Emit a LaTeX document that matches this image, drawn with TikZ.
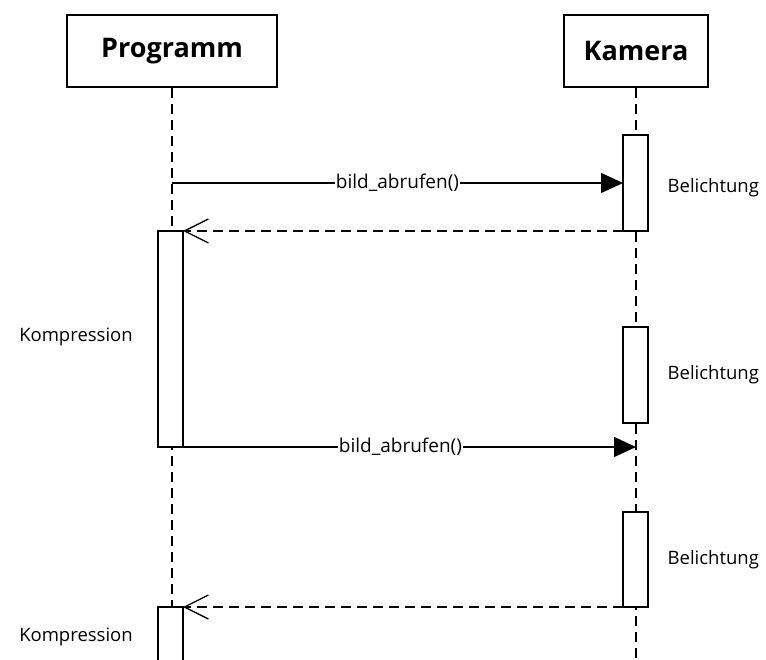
\documentclass[tikz,border=0pt]{standalone}
\usepackage{fontspec}
\setmainfont{Open Sans}
\usetikzlibrary{arrows.meta}
\begin{document}
\begin{tikzpicture}[x=1pt,y=-1pt,
  line width=1.3pt,
  actor/.style={draw,fill=white,inner sep=0pt},
  act/.style={draw,fill=white},
  life/.style={dash pattern=on 10pt off 6pt},
  call/.style={-{Triangle[length=22pt,width=20pt]}},
  ret/.style={dash pattern=on 10pt off 6pt,-{Straight Barb[length=24pt,width=24pt,line width=1.3pt]}},
  lbl/.style={font=\fontsize{18.5}{22}\selectfont},
  msg/.style={font=\fontsize{19}{22}\selectfont,fill=white,inner sep=1pt}]
\useasboundingbox (0,0) rectangle (766,660);
% actors
\node[actor,minimum width=210pt,minimum height=72pt,font=\fontsize{27}{32}\selectfont\bfseries] (prog) at (172,51) {Programm};
\node[actor,minimum width=144pt,minimum height=72pt,font=\fontsize{27}{32}\selectfont\bfseries] (kam) at (636,51) {Kamera};
% lifelines
\coordinate (pend) at (172,660);
\coordinate (kend) at (636,660);
\draw[life] (prog.south) -- (pend);
\draw[life] (kam.south) -- (kend);
% activations
\draw[act] (623,135) rectangle (648,231);
\coordinate (ka1) at (623,183);
\coordinate (ka1b) at (623,231);
\draw[act] (158,231) rectangle (183,447);
\coordinate (pa1t) at (183,231);
\coordinate (pa1b) at (183,447);
\draw[act] (623,327) rectangle (648,423);
\draw[act] (623,512) rectangle (648,607);
\coordinate (ka3b) at (623,607);
\fill[white] (158,607) rectangle (183,661);
\draw (158,661) -- (158,607) -- (183,607) -- (183,661);
\coordinate (pa2t) at (183,607);
% messages
\coordinate (m1s) at (172,183);
\draw[call] (m1s) -- node[msg] {bild\_abrufen()} (ka1);
\draw[ret] (ka1b) -- (pa1t);
\coordinate (k2) at (636,447);
\draw[call] (pa1b) -- node[msg,pos=0.48] {bild\_abrufen()} (k2);
\draw[ret] (ka3b) -- (pa2t);
% labels
\node[lbl,anchor=west,inner sep=0pt] (b1) at (667,188) {Belichtung};
\node[lbl,anchor=west,inner sep=0pt] (b2) at (667,375) {Belichtung};
\node[lbl,anchor=west,inner sep=0pt] (b3) at (667,560) {Belichtung};
\node[lbl] (c1) at (76,337) {Kompression};
\node[lbl] (c2) at (76,637) {Kompression};
\end{tikzpicture}
\end{document}
